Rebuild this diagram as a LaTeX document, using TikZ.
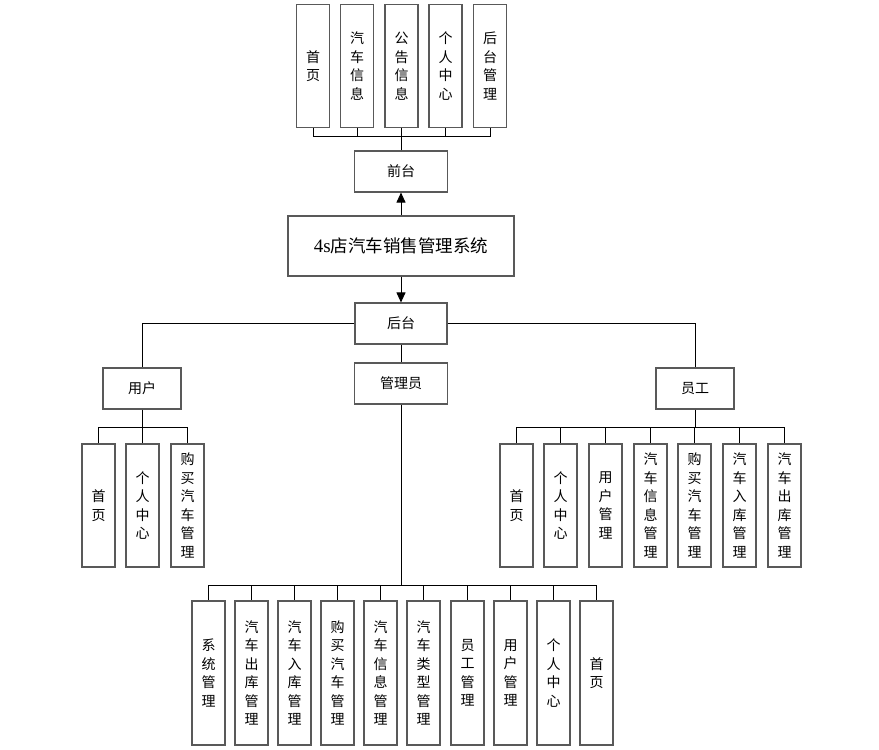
\documentclass[tikz,border=0pt]{standalone}
\usepackage{fontspec}
\setmainfont{Noto Sans CJK SC}
\newfontfamily\latinserif{Liberation Serif}
\usetikzlibrary{arrows.meta}
\tikzset{
 box/.style={draw=black!65, line width=1.1pt, fill=white, inner sep=0pt, align=center, font=\fontsize{14}{18.5}\selectfont},
 vbox/.style={box, minimum width=33pt, text width=20pt},
 hbox/.style={box, minimum height=41pt},
 conn/.style={draw=black, line width=0.9pt},
 arr/.style={conn, -{Triangle[length=10pt,width=9pt]}},
}
\begin{document}
\begin{tikzpicture}[x=1pt,y=-1pt]
\useasboundingbox (0,0) rectangle (879,750);
% top level
\node[box, minimum width=226pt, minimum height=60pt, font=\fontsize{17.5}{20}\selectfont] (main) at (401,246) {{\latinserif\fontsize{19}{20}\selectfont 4s}店汽车销售管理系统};
\node[hbox, minimum width=93pt] (front) at (401,171.5) {前台};
\node[hbox, minimum width=92pt] (back) at (401,323.5) {后台};
\node[hbox, minimum width=93pt] (admin) at (401,383.5) {管理员};
\node[hbox, minimum width=78pt] (user) at (142,388.5) {用户};
\node[hbox, minimum width=78pt] (staff) at (695,388.5) {员工};
\draw[arr] (main.north) -- (front.south);
\draw[arr] (main.south) -- (back.north);
\draw[conn] (back.south) -- (admin.north);
\draw[conn] (back.west) -| (user.north);
\draw[conn] (back.east) -| (staff.north);
% front children
\coordinate (fb) at (401,136);
\draw[conn] (front.north) -- (fb);
\foreach \x/\t [count=\i] in {313/首\\页, 357/汽\\车\\信\\息, 401.5/公\\告\\信\\息, 445.5/个\\人\\中\\心, 490/后\\台\\管\\理}{
  \node[vbox, minimum height=123pt] (t\i) at (\x,66) {\t};
  \draw[conn] (fb) -| (t\i.south);
}
% user children
\coordinate (ub) at (142,427);
\draw[conn] (user.south) -- (ub);
\foreach \x/\t [count=\i] in {98.5/首\\页, 142.5/个\\人\\中\\心, 187.5/购\\买\\汽\\车\\管\\理}{
  \node[vbox, minimum height=123pt] (u\i) at (\x,505.5) {\t};
  \draw[conn] (ub) -| (u\i.north);
}
% staff children
\coordinate (sb) at (695,427);
\draw[conn] (staff.south) -- (sb);
\foreach \x/\t [count=\i] in {516.5/首\\页, 560.5/个\\人\\中\\心, 605.5/用\\户\\管\\理, 650.5/汽\\车\\信\\息\\管\\理, 694.5/购\\买\\汽\\车\\管\\理, 739.5/汽\\车\\入\\库\\管\\理, 784.5/汽\\车\\出\\库\\管\\理}{
  \node[vbox, minimum height=123pt] (s\i) at (\x,505.5) {\t};
  \draw[conn] (sb) -| (s\i.north);
}
% admin children
\coordinate (ab) at (401,585);
\draw[conn] (admin.south) -- (ab);
\foreach \x/\t [count=\i] in {208.5/系\\统\\管\\理, 251.5/汽\\车\\出\\库\\管\\理, 294.5/汽\\车\\入\\库\\管\\理, 337.5/购\\买\\汽\\车\\管\\理, 380.5/汽\\车\\信\\息\\管\\理, 423.5/汽\\车\\类\\型\\管\\理, 467.5/员\\工\\管\\理, 510.5/用\\户\\管\\理, 553.5/个\\人\\中\\心, 596.5/首\\页}{
  \node[vbox, minimum height=144pt] (a\i) at (\x,673) {\t};
  \draw[conn] (ab) -| (a\i.north);
}
\end{tikzpicture}
\end{document}
